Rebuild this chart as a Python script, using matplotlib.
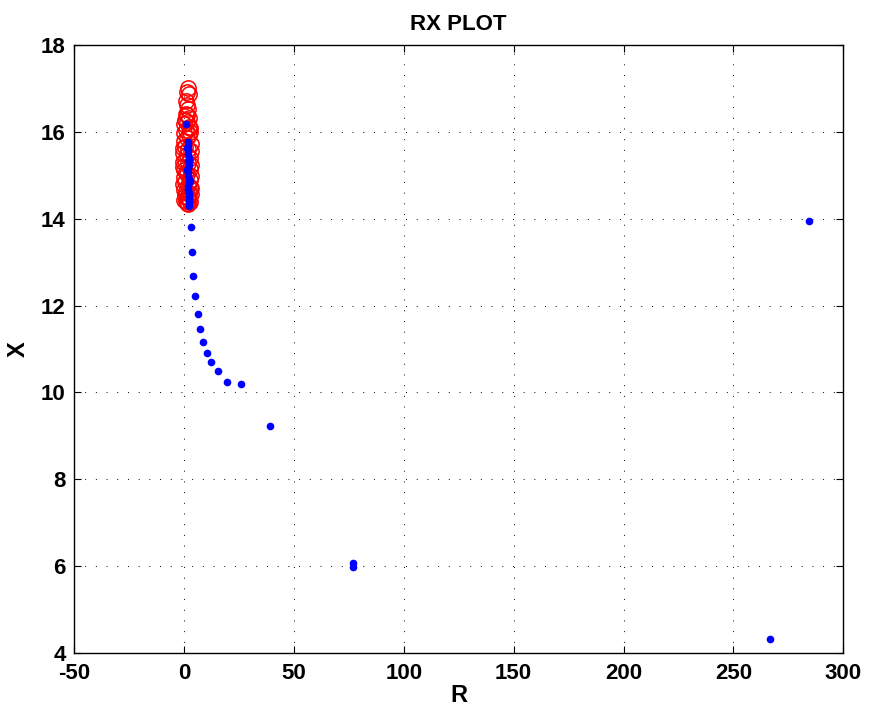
import matplotlib
matplotlib.use("Agg")
import matplotlib.pyplot as plt

plt.rcParams['font.family'] = ['Liberation Sans', 'DejaVu Sans']
plt.rcParams['font.weight'] = 'bold'
plt.rcParams['axes.unicode_minus'] = False

# Measured impedance trajectory (R, X)
r_meas = [0.9, 1.8, 1.9, 2.0, 1.7, 2.1, 1.8, 2.2, 1.9, 2.0, 1.8, 2.1, 2.2, 1.9,
          2.0, 2.3, 2.1, 2.2, 2.4, 2.3, 1.5, 2.5, 1.6, 2.6, 1.7, 2.4,
          3.2, 3.6, 4.2, 5.1, 6.2, 7.3, 8.5, 10.3, 12.3, 15.3, 19.4, 25.8,
          39.0, 76.8, 76.8, 266.8, 284.3]
x_meas = [16.17, 15.77, 15.68, 15.58, 15.48, 15.40, 15.32, 15.24, 15.16, 15.08,
          15.00, 14.92, 14.84, 14.76, 14.68, 14.60, 14.52, 14.44, 14.36, 14.30,
          15.62, 15.36, 15.12, 14.88, 14.64, 14.40,
          13.82, 13.23, 12.68, 12.21, 11.80, 11.45, 11.16, 10.90, 10.69, 10.50,
          10.25, 10.19, 9.23, 6.08, 5.97, 4.32, 13.95]

# Reference (expected) impedance points
r_ref = [2.0, 1.5, 2.3, 1.2, 2.0, 1.0, 2.5, 0.5, 1.6, 0.2, 2.8, 1.0, 0.0, 2.2,
         1.4, -0.2, 3.0, 0.6, 2.0, -0.3, 1.2, 2.9, 0.3, 1.8, -0.4, 2.6, 0.8,
         1.5, -0.2, 2.7, 0.4, 1.9, 2.9, 0.0, 1.1, 2.4, 0.5, 1.7, 2.2, 1.0,
         2.6, 1.4, 2.0, 1.6, 3.2, -0.5, 3.3, -0.4, 3.1, 0.1, 3.4, -0.3, 2.9,
         0.2, 3.0, 1.3, 0.8, 2.3]
x_ref = [17.02, 16.92, 16.88, 16.62, 16.52, 16.42, 16.32, 16.28, 16.22, 16.18,
         16.10, 16.05, 15.98, 15.92, 15.85, 15.78, 15.72, 15.66, 15.60, 15.52,
         15.46, 15.40, 15.34, 15.28, 15.20, 15.14, 15.08, 15.02, 14.96, 14.90,
         14.84, 14.78, 14.72, 14.66, 14.62, 14.56, 14.52, 14.48, 14.44, 14.40,
         14.38, 14.36, 14.34, 14.50, 15.56, 15.62, 15.24, 15.30, 14.98, 15.12,
         14.70, 14.80, 16.00, 14.44, 14.58, 16.40, 16.70, 16.12]

x_ticks = [-50, 0, 50, 100, 150, 200, 250, 300]
y_ticks = [4, 6, 8, 10, 12, 14, 16, 18]

fig = plt.figure(figsize=(8.72, 7.17), dpi=100)
ax = fig.add_axes([0.0849, 0.0893, 0.8823, 0.8479])

ax.plot(r_ref, x_ref, linestyle='none', marker='o', markersize=11,
        markerfacecolor='none', markeredgecolor='#ff0000', markeredgewidth=1.1)
ax.plot(r_meas, x_meas, linestyle='none', marker='o', markersize=4.5,
        markerfacecolor='#0000ff', markeredgecolor='#0000ff')

ax.set_xlim(-50, 300)
ax.set_ylim(4, 18)
ax.set_xticks(x_ticks)
ax.set_yticks(y_ticks)
ax.tick_params(axis='both', direction='in', length=5, width=0.8, top=True,
               right=True, labelsize=16)
ax.tick_params(axis='x', pad=7)
ax.tick_params(axis='y', pad=6)
for lbl in ax.get_xticklabels() + ax.get_yticklabels():
    lbl.set_fontweight('bold')

ax.grid(True, color='black', linestyle=(0, (1, 10)), linewidth=0.7)
for sp in ax.spines.values():
    sp.set_linewidth(1.0)

ax.set_title('RX PLOT', fontsize=16, fontweight='bold', pad=11)
ax.set_xlabel('R', fontsize=17, fontweight='bold', labelpad=0)
ax.set_ylabel('X', fontsize=17, fontweight='bold', labelpad=8)

fig.savefig('out.png', dpi=100)
